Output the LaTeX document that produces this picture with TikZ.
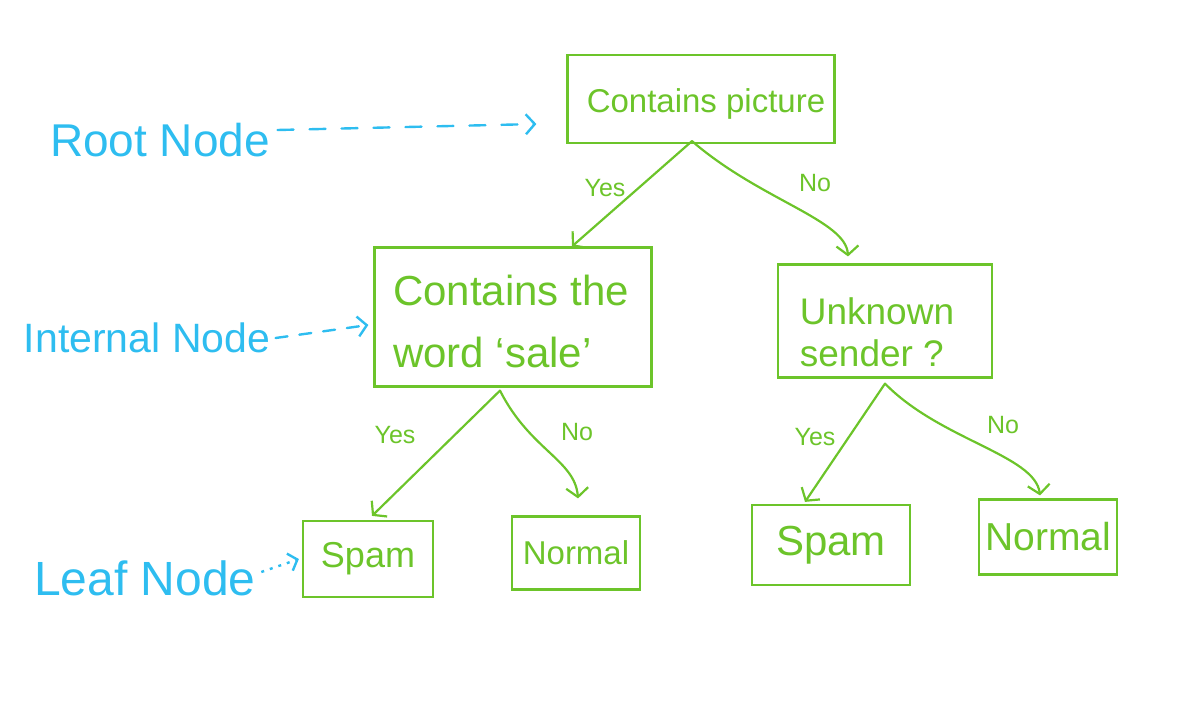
\documentclass[tikz,border=0pt]{standalone}
\usepackage{fontspec}
\setmainfont{Liberation Sans}
\usetikzlibrary{arrows.meta,calc}
\definecolor{grn}{RGB}{108,196,42}
\definecolor{blu}{RGB}{46,189,240}
\newcommand{\fsz}[2]{\fontsize{#1}{#2}\selectfont}
\begin{document}
\begin{tikzpicture}[x=1pt,y=-1pt,
 box/.style={draw=grn,line width=2.2pt,text=grn,inner sep=6pt,align=left},
 edge/.style={draw=grn,line width=2.2pt,line cap=round,-{Straight Barb[length=9pt,width=22pt,line width=2.2pt]}},
 elabel/.style={text=grn,font=\fsz{25}{28}},
 tag/.style={text=blu},
 pointer/.style={draw=blu,line width=2.4pt,line cap=round,dash pattern=on 16pt off 16pt,-{Straight Barb[length=9pt,width=20pt,line width=2.4pt]}},
 dotpointer/.style={draw=blu,line width=2.4pt,dash pattern=on 3pt off 6pt,-{Straight Barb[length=8pt,width=18pt,line width=2.4pt]}}]
\useasboundingbox (0,0) rectangle (1182,712);
% tree nodes
\node[box,minimum width=267pt,minimum height=88pt] (root) at (701,99) {};
\node[text=grn,font=\fsz{33}{38}] (troottext) at (706,104) {Contains picture};
\node[box,minimum width=277pt,minimum height=139pt] (intl) at (513,317) {};
\node[text=grn,font=\fsz{42}{62},align=left] (intltext) at (511,321) {Contains the\\word ‘sale’};
\node[box,minimum width=214pt,minimum height=113pt] (intr) at (885,321) {};
\node[text=grn,font=\fsz{37}{42},align=left] (intrtext) at (877,332) {Unknown\\sender ?};
\node[box,minimum width=130pt,minimum height=76pt,font=\fsz{36}{40}] (spam1) at (368,559) {Spam};
\node[box,minimum width=128pt,minimum height=73pt,font=\fsz{33}{40}] (norm1) at (576,553) {Normal};
\node[box,minimum width=158pt,minimum height=80pt,font=\fsz{42}{46}] (spam2) at (831,545) {Spam};
\node[box,minimum width=137pt,minimum height=75pt,font=\fsz{39}{44}] (norm2) at (1048,537) {Normal};
% edges
\draw[edge] ($(root.south)+(-9,-3)$) -- ($(intl.north)+(59,0)$);
\draw[edge] ($(root.south)+(-9,-3)$) .. controls (760,200) and (846,220) .. ($(intr.north)+(-37,-7)$);
\draw[edge] ($(intl.south)+(-13,3)$) -- ($(spam1.north)+(4,-4)$);
\draw[edge] ($(intl.south)+(-13,3)$) .. controls (530,450) and (575,460) .. ($(norm1.north)+(2,-17)$);
\draw[edge] ($(intr.south)+(0,5)$) -- ($(spam2.north)+(-26,-2)$);
\draw[edge] ($(intr.south)+(0,5)$) .. controls (940,440) and (1035,455) .. ($(norm2.north)+(-8,-3)$);
% edge labels
\node[elabel] (l1) at (605,188) {Yes};
\node[elabel] (l2) at (815,183) {No};
\node[elabel] (l3) at (395,435) {Yes};
\node[elabel] (l4) at (577,432) {No};
\node[elabel] (l5) at (815,437) {Yes};
\node[elabel] (l6) at (1003,425) {No};
% tags
\node[tag,font=\fsz{46}{50}] (troot) at (160,140) {Root Node};
\node[tag,font=\fsz{41}{46}] (tint) at (147,338) {Internal Node};
\node[tag,font=\fsz{48}{52}] (tleaf) at (145,578) {Leaf Node};
\draw[pointer] ($(troot.east)+(4,-10)$) -- ($(root.west)+(-30,25)$);
\draw[pointer,dash pattern=on 12pt off 12pt] ($(tint.east)+(2,0)$) -- ($(intl.west)+(-5,8)$);
\draw[dotpointer] ($(tleaf.east)+(2,-6)$) -- ($(spam1.west)+(-3,0)$);
\end{tikzpicture}
\end{document}
